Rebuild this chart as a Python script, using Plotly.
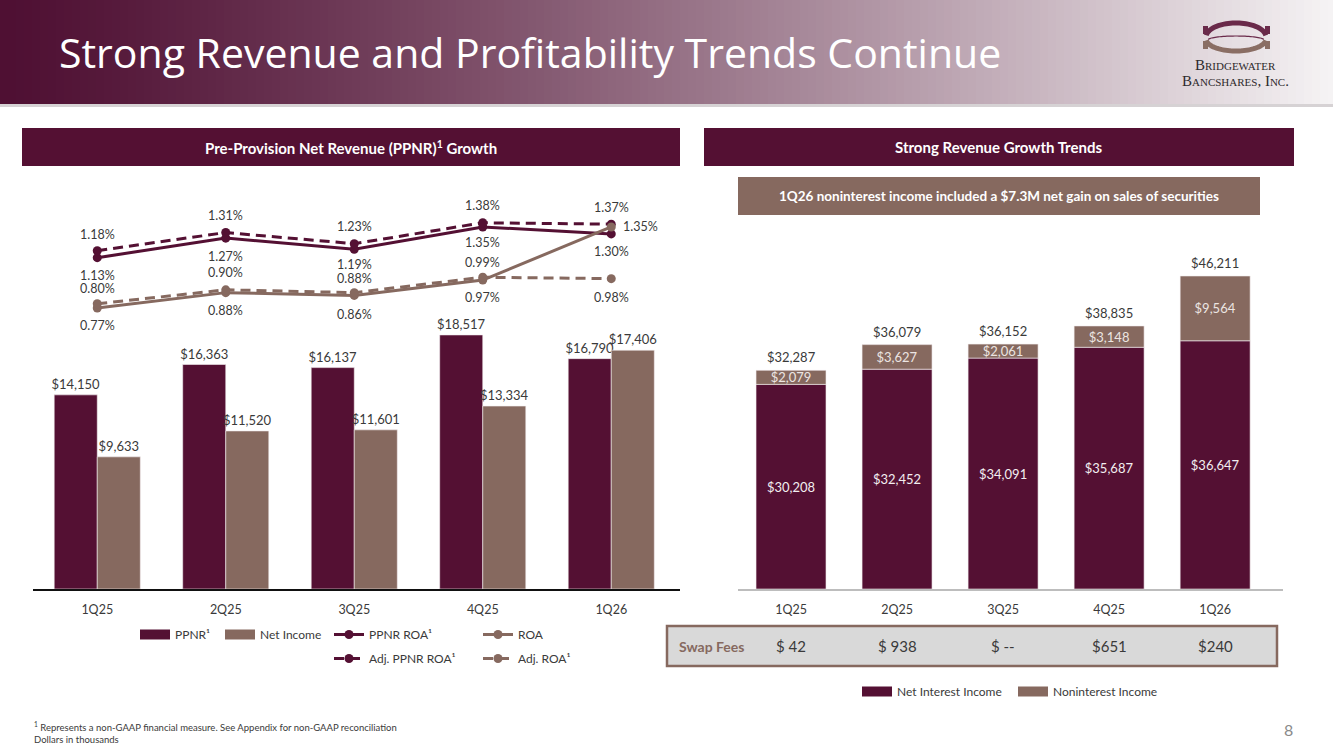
import numpy as np
import plotly.graph_objects as go

# ---- data (dollars in thousands, ROA in %) ----
quarters = ["1Q25", "2Q25", "3Q25", "4Q25", "1Q26"]

ppnr = [14150, 16363, 16137, 18517, 16790]
net_income = [9633, 11520, 11601, 13334, 17406]

ppnr_roa = [1.13, 1.27, 1.19, 1.35, 1.30]
adj_ppnr_roa = [1.18, 1.31, 1.23, 1.38, 1.37]
roa = [0.77, 0.88, 0.86, 0.97, 1.35]
adj_roa = [0.80, 0.90, 0.88, 0.99, 0.98]

net_interest_income = [30208, 32452, 34091, 35687, 36647]
noninterest_income = [2079, 3627, 2061, 3148, 9564]
swap_fees = ["$ 42", "$ 938", "$ --", "$651", "$240"]

total_revenue = [a + b for a, b in zip(net_interest_income, noninterest_income)]

# ---- style ----
MAROON = "#541033"
BROWN = "#86695f"
TEXT = "#3a3a3a"
FONT = "Lato"
W, H = 1333, 749


def fx(x):
    return x / W


def fy(y):
    return 1 - y / H


def money(v):
    return f"${v:,}"


fig = go.Figure()

# left: PPNR and net income bars
fig.add_trace(go.Bar(
    x=quarters, y=ppnr, width=0.335, offset=-0.335,
    marker=dict(color=MAROON, line=dict(color="#f3eef0", width=0.6)),
    text=[money(v) for v in ppnr], textposition="outside", constraintext="none",
    textfont=dict(size=13, color=TEXT), cliponaxis=False, showlegend=False,
    xaxis="x", yaxis="y", hoverinfo="skip"
))
fig.add_trace(go.Bar(
    x=quarters, y=net_income, width=0.335, offset=0,
    marker=dict(color=BROWN, line=dict(color="#f3eef0", width=0.6)),
    text=[money(v) for v in net_income], textposition="outside", constraintext="none",
    textfont=dict(size=13, color=TEXT), cliponaxis=False, showlegend=False,
    xaxis="x", yaxis="y", hoverinfo="skip"
))

# left: ROA lines
line_series = [
    ("PPNR ROA¹", ppnr_roa, MAROON, "solid", "legend2"),
    ("Adj. PPNR ROA¹", adj_ppnr_roa, MAROON, "10px,6px", "legend2"),
    ("ROA", roa, BROWN, "solid", "legend3"),
    ("Adj. ROA¹", adj_roa, BROWN, "10px,6px", "legend3"),
]
for name, vals, col, dash, leg in line_series:
    fig.add_trace(go.Scatter(
        x=quarters, y=vals, mode="lines+markers", name=name, legendgroup=name,
        line=dict(color=col, width=3, dash=dash),
        marker=dict(color=col, size=9),
        legend=leg, xaxis="x", yaxis="y2", cliponaxis=False, hoverinfo="skip"
    ))

# right: stacked revenue bars
fig.add_trace(go.Bar(
    x=quarters, y=net_interest_income, width=0.66,
    marker=dict(color=MAROON, line=dict(color="#f3eef0", width=0.6)),
    text=[money(v) for v in net_interest_income], textposition="inside",
    insidetextanchor="middle", textangle=0, constraintext="none",
    textfont=dict(size=13, color="#f2eef0"), showlegend=False,
    xaxis="x2", yaxis="y3", hoverinfo="skip"
))
fig.add_trace(go.Bar(
    x=quarters, y=noninterest_income, base=net_interest_income, width=0.66,
    marker=dict(color=BROWN, line=dict(color="#f3eef0", width=0.6)),
    text=[money(v) for v in noninterest_income], textposition="inside",
    insidetextanchor="middle", textangle=0, constraintext="none",
    textfont=dict(size=13, color="#ece5e2"), showlegend=False,
    xaxis="x2", yaxis="y3", hoverinfo="skip"
))

# legend swatches (wide rectangles like the source)
for name, col, leg in [("PPNR¹", MAROON, "legend"), ("Net Income", BROWN, "legend5"),
                       ("Net Interest Income", MAROON, "legend4"),
                       ("Noninterest Income", BROWN, "legend4")]:
    fig.add_trace(go.Scatter(
        x=[None], y=[None], mode="lines", name=name,
        line=dict(color=col, width=10), legend=leg, xaxis="x", yaxis="y"
    ))

# ---- annotations ----
ann = []

# ROA point labels: offset in px (positive = above), "r" = to the right
label_pos = {
    "PPNR ROA¹": [-18, -18, -15, -16, -18],
    "Adj. PPNR ROA¹": [16, 17, 17, 17, 17],
    "ROA": [-17, -18, -19, -17, "r"],
    "Adj. ROA¹": [15, 17, 14, 15, -19],
}
for name, vals, col, dash, leg in line_series:
    for q, v, p in zip(quarters, vals, label_pos[name]):
        if p == "r":
            ann.append(dict(x=q, y=v, xref="x", yref="y2", text=f"{v:.2f}%",
                            showarrow=False, xanchor="left", yanchor="middle",
                            xshift=10, font=dict(size=12.5, color=TEXT)))
        else:
            ann.append(dict(x=q, y=v, xref="x", yref="y2", text=f"{v:.2f}%",
                            showarrow=False, xanchor="center", yanchor="middle",
                            yshift=p, font=dict(size=12.5, color=TEXT)))

# revenue totals above the stacks
for q, t in zip(quarters, total_revenue):
    ann.append(dict(x=q, y=t, xref="x2", yref="y3", text=money(t), showarrow=False,
                    xanchor="center", yanchor="middle", yshift=13,
                    font=dict(size=13, color=TEXT)))


def paper_text(x, y, text, size, color, family=None, anchor="center"):
    f = dict(size=size, color=color)
    if family:
        f["family"] = family
    return dict(x=fx(x), y=fy(y), xref="paper", yref="paper", xanchor=anchor,
                yanchor="middle", showarrow=False, text=text, font=f)


# title
ann.append(paper_text(57, 52, "Strong Revenue and Profitability Trends Continue",
                      41, "white", family="Open Sans", anchor="left"))

# section headers
ann.append(paper_text(351, 147, "<b>Pre-Provision Net Revenue (PPNR)<sup>1</sup> Growth</b>",
                      15, "white"))
ann.append(paper_text(999, 147, "<b>Strong Revenue Growth Trends</b>", 15, "white"))
ann.append(paper_text(999, 196,
                      "<b>1Q26 noninterest income included a $7.3M net gain on sales of securities</b>",
                      13.5, "white"))

# swap fees row
ann.append(paper_text(711, 646, "<b>Swap Fees</b>", 14, BROWN))
for q, s in zip(quarters, swap_fees):
    ann.append(dict(x=q, y=fy(646), xref="x2", yref="paper", showarrow=False,
                    xanchor="center", yanchor="middle",
                    text=s, font=dict(size=15, color=TEXT)))

# logo text
ann.append(paper_text(1235, 65, "B<span style='font-size:11px'>RIDGEWATER</span>",
                      15, "#2e2a2c", family="Liberation Serif"))
ann.append(paper_text(1235, 81,
                      "B<span style='font-size:11px'>ANCSHARES</span>, I<span style='font-size:11px'>NC</span>.",
                      15, "#2e2a2c", family="Liberation Serif"))

# footnote and page number
ann.append(paper_text(32, 726,
                      "<sup>1</sup> Represents a non-GAAP financial measure. See Appendix for non-GAAP reconciliation",
                      9.5, TEXT, anchor="left"))
ann.append(paper_text(32, 739, "Dollars in thousands", 9.5, TEXT, anchor="left"))
ann.append(paper_text(1288, 729, "8", 16, "#8a8a8a"))

# ---- shapes ----
shapes = []

# header gradient
c0 = np.array([79, 16, 51])
c1 = np.array([246, 244, 245])
step = 8
for x0 in range(0, W, step):
    t = (x0 + step / 2) / W
    c = c0 + (c1 - c0) * t ** 1.25
    shapes.append(dict(type="rect", xref="paper", yref="paper",
                       x0=fx(x0), x1=fx(min(x0 + step + 1, W)), y0=fy(104), y1=1,
                       fillcolor=f"rgb({int(c[0])},{int(c[1])},{int(c[2])})",
                       line=dict(width=0), layer="below"))
shapes.append(dict(type="rect", xref="paper", yref="paper", x0=0, x1=1,
                   y0=fy(107), y1=fy(104), fillcolor="#d6d2d4", line=dict(width=0),
                   layer="below"))


def arc_path(cx, cy, rx, ry, a0, a1, n=40):
    pts = []
    for a in np.linspace(a0, a1, n):
        pts.append(f"{fx(cx + rx * np.cos(a)):.5f},{fy(cy - ry * np.sin(a)):.5f}")
    return "M " + " L ".join(pts)


# logo mark
LOGO_TOP = "#6a2a4a"
LOGO_BOT = "#8a6e64"
shapes.append(dict(type="path", xref="paper", yref="paper",
                   path=arc_path(1236, 37, 30, 14, 0.12, np.pi - 0.12),
                   line=dict(color=LOGO_TOP, width=5)))
shapes.append(dict(type="path", xref="paper", yref="paper",
                   path=arc_path(1236, 39, 30, 12, np.pi + 0.12, 2 * np.pi - 0.12),
                   line=dict(color=LOGO_BOT, width=5)))
shapes.append(dict(type="path", xref="paper", yref="paper",
                   path=arc_path(1236, 40, 28, 4, 0.15, np.pi - 0.15),
                   line=dict(color=LOGO_TOP, width=1.2)))
for px0, py0, col in [(1203, 26, LOGO_TOP), (1265, 26, LOGO_TOP),
                      (1203, 41, LOGO_BOT), (1265, 41, LOGO_BOT)]:
    shapes.append(dict(type="rect", xref="paper", yref="paper",
                       x0=fx(px0), x1=fx(px0 + 5), y0=fy(py0 + 8), y1=fy(py0),
                       fillcolor=col, line=dict(width=0)))

# section header bars
shapes.append(dict(type="rect", xref="paper", yref="paper", x0=fx(22), x1=fx(680),
                   y0=fy(166), y1=fy(128), fillcolor=MAROON, line=dict(width=0),
                   layer="below"))
shapes.append(dict(type="rect", xref="paper", yref="paper", x0=fx(704), x1=fx(1294),
                   y0=fy(166), y1=fy(128), fillcolor=MAROON, line=dict(width=0),
                   layer="below"))
shapes.append(dict(type="rect", xref="paper", yref="paper", x0=fx(738), x1=fx(1260),
                   y0=fy(215), y1=fy(177), fillcolor=BROWN, line=dict(width=0),
                   layer="below"))

# swap fees box
shapes.append(dict(type="rect", xref="paper", yref="paper", x0=fx(667), x1=fx(1277),
                   y0=fy(666), y1=fy(626), fillcolor="#d9d9d9",
                   line=dict(color=BROWN, width=2.5), layer="below"))

leg_common = dict(font=dict(family=FONT, size=12, color=TEXT), bgcolor="rgba(0,0,0,0)",
                  xanchor="left", yanchor="top", itemclick=False, itemdoubleclick=False)

fig.update_layout(
    width=W, height=H,
    margin=dict(l=0, r=0, t=0, b=0),
    template="none",
    paper_bgcolor="white",
    plot_bgcolor="rgba(0,0,0,0)",
    font=dict(family=FONT, size=12, color=TEXT),
    barmode="overlay",
    xaxis=dict(domain=[fx(33), fx(680)], range=[-0.5, 4.535], anchor="y",
               showline=True, linecolor="#111111", linewidth=1.5, ticks="",
               ticklabelstandoff=8,
               showgrid=False, zeroline=False, tickfont=dict(size=12.5, color=TEXT),
               fixedrange=True),
    yaxis=dict(domain=[fy(589), fy(180)], range=[0, 29810], visible=False,
               fixedrange=True),
    yaxis2=dict(overlaying="y", range=[-1.241, 1.686], visible=False, fixedrange=True),
    xaxis2=dict(domain=[fx(738), fx(1283)], range=[-0.5, 4.64], anchor="y3",
                showline=True, linecolor="#bdbdbd", linewidth=1.5, ticks="",
                ticklabelstandoff=8,
                showgrid=False, zeroline=False, tickfont=dict(size=12.5, color=TEXT),
                fixedrange=True),
    yaxis3=dict(domain=[fy(589), fy(230)], range=[0, 53000], visible=False,
                anchor="x2", fixedrange=True),
    legend=dict(x=fx(135), y=fy(620), orientation="h", **leg_common),
    legend5=dict(x=fx(220), y=fy(620), orientation="h", **leg_common),
    legend2=dict(x=fx(329), y=fy(620), orientation="v", tracegroupgap=5, **leg_common),
    legend3=dict(x=fx(478), y=fy(620), orientation="v", tracegroupgap=5, **leg_common),
    legend4=dict(x=fx(857), y=fy(677), orientation="h", entrywidth=111, **leg_common),
    annotations=ann,
    shapes=shapes,
    showlegend=True,
)

fig.write_html("out.html", config={"displayModeBar": False},
               post_script="document.body.style.margin='0px';")
